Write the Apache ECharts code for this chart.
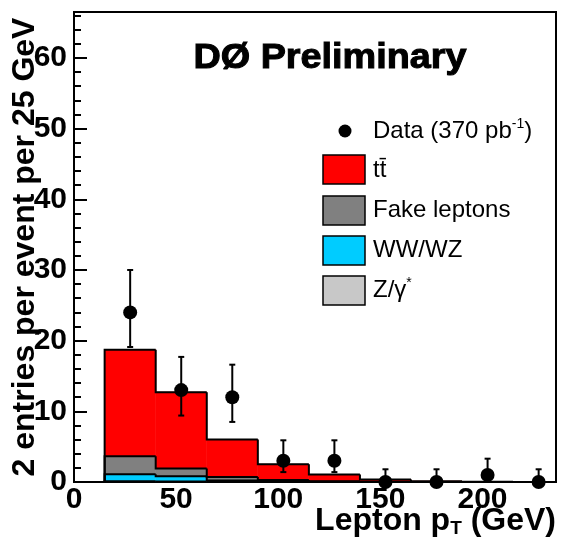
<!DOCTYPE html>
<html><head><meta charset="utf-8">
<script src="https://cdn.jsdelivr.net/npm/echarts@6/dist/echarts.min.js"></script>
<style>html,body{margin:0;padding:0;background:#fff}#c{width:563px;height:553px}</style>
</head><body><div id="c"></div><script>
// ---- data ----
const binEdges = [15, 40, 65, 90, 115, 140, 165, 190, 215, 240];
const binCenters = [27.5, 52.5, 77.5, 102.5, 127.5, 152.5, 177.5, 202.5, 227.5];
const dataCounts = [24, 13, 12, 3, 3, 0, 0, 1, 0];
const dataErrLow = [4.9, 3.6, 3.5, 1.6, 1.6, 0, 0, 0.8, 0];
const dataErrHigh = [6.0, 4.7, 4.6, 2.9, 2.9, 1.8, 1.8, 2.3, 1.8];
const zgamma = [0.1, 0.08, 0.04, 0.02, 0, 0, 0, 0, 0];
const wwwz   = [1.0, 0.72, 0.16, 0.06, 0.03, 0, 0, 0, 0];
const fakeLep= [2.55, 1.1, 0.5, 0.22, 0.07, 0.05, 0, 0, 0];
const ttbar  = [15.05, 10.8, 5.3, 2.2, 0.95, 0.3, 0.12, 0.05, 0.0];
const yTickInterval = 10;
const xTickInterval = 50;

// ---- build stacked components (bottom to top) ----
const components = [
  {name: 'Z/γ*', values: zgamma, color: '#c8c8c8'},
  {name: 'WW/WZ', values: wwwz, color: '#00ccff'},
  {name: 'Fake leptons', values: fakeLep, color: '#808080'},
  {name: 'tt̄', values: ttbar, color: '#ff0000'}
];
const base = binCenters.map(() => 0);
const fillSeries = [], outlineSeries = [];
components.forEach((c, ci) => {
  const fills = [], outl = [];
  c.values.forEach((v, i) => {
    const lo = base[i], hi = base[i] + v;
    fills.push([binEdges[i], binEdges[i + 1], lo, hi]);
    base[i] = hi;
  });
  fills.forEach((f, i) => {
    const prev = i === 0 ? 0 : fills[i - 1][3];
    outl.push([f[0], f[1], f[3], prev, i === fills.length - 1 ? 1 : 0]);
  });
  fillSeries.push({
    type: 'custom', name: c.name, clip: true, z: 2 + ci * 0.01,
    itemStyle: {color: c.color},
    renderItem: function (params, api) {
      const p0 = api.coord([api.value(0), api.value(2)]);
      const p1 = api.coord([api.value(1), api.value(3)]);
      return {type: 'rect', shape: {x: p0[0], y: p1[1], width: p1[0] - p0[0], height: p0[1] - p1[1]},
        style: {fill: c.color, stroke: c.color, lineWidth: 0.6}};
    },
    encode: {x: [0, 1], y: [2, 3]},
    data: fills
  });
  outlineSeries.push({
    type: 'custom', clip: true, z: 3 + ci * 0.01,
    renderItem: function (params, api) {
      const x0 = api.value(0), x1 = api.value(1), yt = api.value(2), yp = api.value(3);
      const pts = [api.coord([x0, yp]), api.coord([x0, yt]), api.coord([x1, yt])];
      if (api.value(4) === 1) pts.push(api.coord([x1, 0]));
      return {type: 'polyline', shape: {points: pts}, style: {stroke: '#000', lineWidth: 2, fill: null}};
    },
    encode: {x: [0, 1], y: [2, 3]},
    data: outl
  });
});

const errData = binCenters.map((x, i) => [x, dataCounts[i] - dataErrLow[i], dataCounts[i] + dataErrHigh[i]]);
const pointData = binCenters.map((x, i) => [x, dataCounts[i]]);

const chart = echarts.init(document.getElementById('c'), null, {renderer: 'canvas'});
const FONT = 'Liberation Sans, Arial, Helvetica, sans-serif';
chart.setOption({
  animation: false,
  backgroundColor: '#fff',
  grid: {left: 74, right: 7, top: 12, bottom: 71, show: true, borderColor: '#000', borderWidth: 2,
    backgroundColor: 'transparent', containLabel: false, outerBoundsMode: 'none'},
  xAxis: {
    type: 'value', min: 0, max: 236, interval: xTickInterval,
    axisLine: {lineStyle: {color: '#000', width: 2}},
    axisTick: {show: false},
    splitLine: {show: false},
    axisLabel: {color: '#000', fontSize: 30, fontWeight: 'bold', fontFamily: FONT, margin: 3, showMaxLabel: false},
    name: 'Lepton p{sub|T} (GeV)',
    nameLocation: 'end', nameGap: 0, nameMoveOverlap: false,
    nameTextStyle: {color: '#000', fontSize: 32, fontWeight: 'bold', fontFamily: FONT, align: 'right', verticalAlign: 'top',
      padding: [23, 0, 0, 0],
      rich: {sub: {fontSize: 19, fontWeight: 'bold', fontFamily: FONT, color: '#000', padding: [14, 0, 0, 0]}}}
  },
  yAxis: {
    type: 'value', min: 0, max: 66.5, interval: yTickInterval,
    axisLine: {lineStyle: {color: '#000', width: 2}},
    axisTick: {inside: true, length: 13, lineStyle: {color: '#000', width: 2}},
    minorTick: {show: true, splitNumber: 5, length: 7, lineStyle: {color: '#000', width: 2}},
    splitLine: {show: false},
    axisLabel: {color: '#000', fontSize: 30, fontWeight: 'bold', fontFamily: FONT, margin: 7, showMaxLabel: false},
    name: '2 entries per event per 25 GeV',
    nameLocation: 'middle', nameGap: 49, nameRotate: 90, nameMoveOverlap: false,
    nameTextStyle: {color: '#000', fontSize: 32, fontWeight: 'bold', fontFamily: FONT, verticalAlign: 'middle'}
  },
  graphic: [
    {type: 'text', x: 330, y: 58, z: 10, scaleX: 1.08,
      style: {text: 'DØ Preliminary', align: 'center', verticalAlign: 'middle', fill: '#000',
        stroke: '#000', lineWidth: 1, font: 'bold 35px ' + FONT}},
    {type: 'circle', shape: {cx: 345, cy: 131, r: 6.5}, style: {fill: '#000'}, z: 10},
    {type: 'text', x: 373, y: 131, z: 10,
      style: {text: 'Data (370 pb{sup|-1})', verticalAlign: 'middle', fill: '#000', font: '24px ' + FONT,
        rich: {sup: {fontSize: 14, fontFamily: FONT, fill: '#000', padding: [0, 0, 14, 0]}}}},
    {type: 'rect', shape: {x: 323, y: 155, width: 42, height: 29}, style: {fill: '#ff0000', stroke: '#000', lineWidth: 1.5}, z: 10},
    {type: 'text', x: 373, y: 170, z: 10, style: {text: 'tt̄', verticalAlign: 'middle', fill: '#000', font: '24px ' + FONT}},
    {type: 'rect', shape: {x: 323, y: 196, width: 42, height: 29}, style: {fill: '#808080', stroke: '#000', lineWidth: 1.5}, z: 10},
    {type: 'text', x: 373, y: 210, z: 10, style: {text: 'Fake leptons', verticalAlign: 'middle', fill: '#000', font: '24px ' + FONT}},
    {type: 'rect', shape: {x: 323, y: 236, width: 42, height: 29}, style: {fill: '#00ccff', stroke: '#000', lineWidth: 1.5}, z: 10},
    {type: 'text', x: 373, y: 250, z: 10, style: {text: 'WW/WZ', verticalAlign: 'middle', fill: '#000', font: '24px ' + FONT}},
    {type: 'rect', shape: {x: 323, y: 276, width: 42, height: 29}, style: {fill: '#c8c8c8', stroke: '#000', lineWidth: 1.5}, z: 10},
    {type: 'text', x: 373, y: 290, z: 10,
      style: {text: 'Z/γ{sup|*}', verticalAlign: 'middle', fill: '#000', font: '24px ' + FONT,
        rich: {sup: {fontSize: 14, fontFamily: FONT, fill: '#000', padding: [0, 0, 14, 0]}}}}
  ],
  series: [
    ...fillSeries,
    ...outlineSeries,
    {
      type: 'custom', z: 5,
      renderItem: function (params, api) {
        const x = api.value(0);
        const lo = api.coord([x, api.value(1)]), hi = api.coord([x, api.value(2)]);
        const cap = 3;
        return {type: 'group', children: [
          {type: 'line', shape: {x1: lo[0], y1: lo[1], x2: hi[0], y2: hi[1]}, style: {stroke: '#000', lineWidth: 2}},
          {type: 'line', shape: {x1: hi[0] - cap, y1: hi[1], x2: hi[0] + cap, y2: hi[1]}, style: {stroke: '#000', lineWidth: 2}},
          {type: 'line', shape: {x1: lo[0] - cap, y1: lo[1], x2: lo[0] + cap, y2: lo[1]}, style: {stroke: '#000', lineWidth: 2}}
        ]};
      },
      encode: {x: 0, y: [1, 2]},
      data: errData
    },
    {
      type: 'scatter', z: 6, name: 'Data', symbol: 'circle', symbolSize: 14,
      itemStyle: {color: '#000', opacity: 1},
      data: pointData
    }
  ]
});
</script></body></html>
